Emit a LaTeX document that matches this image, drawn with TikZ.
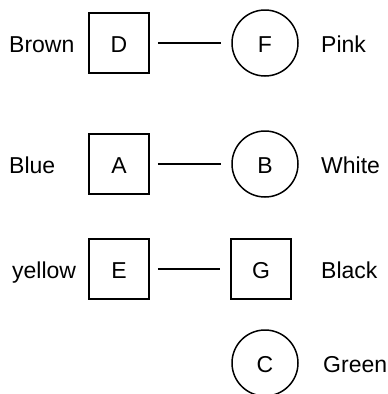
\documentclass[tikz,border=0pt]{standalone}
\usepackage{fontspec}
\setmainfont{Liberation Sans}

\begin{document}
\begin{tikzpicture}[x=1pt, y=-1pt,
    every node/.style={font=\fontsize{23}{27}\selectfont, text height=19.5pt, text depth=0pt},
    box/.style={draw, line width=1.5pt, minimum size=60pt, inner sep=0pt},
    ring/.style={draw, circle, line width=1.5pt, minimum size=66pt, inner sep=0pt},
    tag/.style={anchor=west, inner sep=0pt},
    link/.style={line width=1.5pt, shorten <=8pt, shorten >=10pt}]
    \useasboundingbox (0,0) rectangle (388,394);
    % shapes
    \node[box]  (D) at (119,43)  {D};
    \node[ring] (F) at (265,43)  {F};
    \node[box]  (A) at (119,164) {A};
    \node[ring] (B) at (265,164) {B};
    \node[box]  (E) at (119,269) {E};
    \node[box]  (G) at (261,269) {G};
    \node[ring] (C) at (265,363) {C};
    % colour names
    \node[tag] (brown)  at (9,43)    {Brown};
    \node[tag] (blue)   at (9,164)   {Blue};
    \node[tag] (yellow) at (12,269)  {yellow};
    \node[tag] (pink)   at (321,43)  {Pink};
    \node[tag] (white)  at (321,164) {White};
    \node[tag] (black)  at (321,269) {Black};
    \node[tag] (green)  at (323,363) {Green};
    % links
    \draw[link] (D) -- (F);
    \draw[link] (A) -- (B);
    \draw[link] (E) -- (G);
\end{tikzpicture}
\end{document}
